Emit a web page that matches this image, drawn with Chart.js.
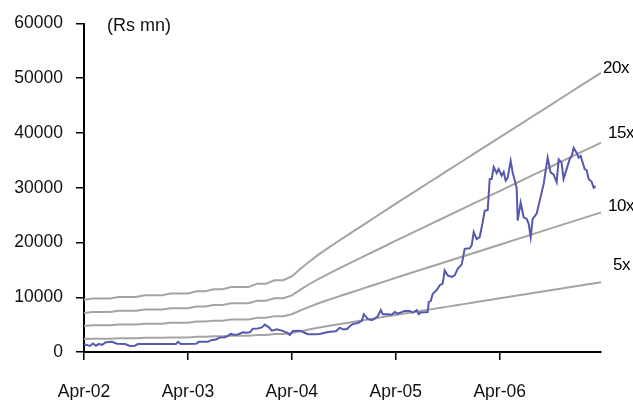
<!DOCTYPE html>
<html>
<head>
<meta charset="utf-8">
<script src="https://cdn.jsdelivr.net/npm/chart.js@4/dist/chart.umd.min.js"></script>
<style>
  html, body { margin: 0; padding: 0; background: #fff; }
  #wrap { width: 633px; height: 400px; }
</style>
</head>
<body>
<div id="wrap"><canvas id="c" width="633" height="400"></canvas></div>
<script>
// Market capitalisation (Rs mn), x = months since Apr-02
const mcapMonths = [0,0.69,1.04,1.38,1.73,2.08,2.54,3.23,3.81,4.73,
  5.31,5.88,6.23,8.77,10.62,10.85,11.19,12.92,13.27,14.31,
  14.77,15.23,15.69,16.27,16.62,16.96,17.31,17.77,18.35,18.81,
  19.15,19.5,20.08,20.54,20.88,21.35,21.69,22.27,22.85,23.42,
  23.77,24.12,24.92,25.38,25.85,26.65,27.23,27.81,28.38,29.08,
  29.54,29.88,30.35,30.69,31.04,31.62,32.08,32.31,32.77,33.23,
  33.58,33.92,34.27,34.5,35.08,35.54,35.88,36.23,37.04,37.62,
  37.96,38.42,38.65,38.88,39.69,39.81,40.04,40.27,40.73,41.08,
  41.42,41.65,42.0,42.46,42.81,43.15,43.62,43.96,44.54,44.77,
  45.0,45.35,45.69,46.04,46.27,46.62,46.85,47.08,47.31,47.65,
  47.88,48.23,48.46,48.69,48.92,49.27,49.5,49.96,50.08,50.42,
  50.77,51.12,51.35,51.58,51.81,52.27,52.62,53.08,53.54,53.88,
  54.23,54.58,54.81,55.15,55.38,55.73,56.08,56.31,56.54,56.88,
  57.12,57.35,57.58,57.81,58.04,58.27,58.62,58.85,59.08];
const mcapValues = [1400,1100,1550,1150,1500,1300,1800,1850,1500,1450,
  1100,1150,1450,1450,1450,1850,1450,1500,1850,1850,
  2200,2300,2650,2700,2950,3300,3150,3200,3600,3500,
  3600,4250,4300,4500,5000,4500,3900,4150,3900,3550,
  3100,3850,3900,3600,3250,3250,3300,3500,3700,3800,
  4450,4150,4150,4700,5100,5300,5700,6900,6050,5800,
  6100,6500,7650,6900,6900,6800,7300,7000,7500,7500,
  7200,7650,6900,7200,7300,9150,9300,10650,11300,12200,
  12500,14900,14000,13700,14000,15200,16000,18850,18950,19500,
  21900,20650,21000,23700,25800,25950,31600,31600,33800,32700,
  33400,32200,32900,31300,31800,34900,32800,30000,24000,27300,
  24600,24300,23400,21000,24300,25300,27600,30700,35500,32800,
  32400,31000,35200,34600,31600,33400,35200,35800,37300,36400,
  35500,35800,34600,33400,33200,31600,31100,30000,30300];

// Earnings per period used for the P/E bands (Rs mn)
const epsMonths = [0,1,2,3,4,5,6,7,8,9,10,11,12,13,14,15,16,17,18,19,
  20,21,22,23,24,25,26,27,28,29,30,31,32,33,34,35,36,37,38,39,
  40,41,42,43,44,45,46,47,48,49,50,51,52,53,54,55,56,57,58,59,59.7];
const epsValues = [476,488,488,488,503,503,503,518,518,518,
  534,534,534,555,555,573,573,594,594,594,
  624,624,655,655,690,760,825,885,940,993,
  1045,1097,1148,1200,1251,1303,1355,1405,1456,1506,
  1557,1607,1658,1708,1758,1809,1859,1910,1960,2010,
  2061,2111,2162,2212,2262,2313,2363,2414,2464,2514,2549];

const peMultiples = [20, 15, 10, 5];
const bandLabels = ['20x', '15x', '10x', '5x'];

const xTickMonths = [0, 12, 24, 36, 48];
const xTickLabels = ['Apr-02', 'Apr-03', 'Apr-04', 'Apr-05', 'Apr-06'];
const unitLabel = '(Rs mn)';

// label placement next to the end of each band line
const labelDx = [2, 7, 7, 12];
const labelDy = [0, -5, -1, -12];

const FONT = '"Liberation Sans", Arial, sans-serif';

const toPoints = (xs, ys) => xs.map((m, i) => ({ x: m, y: ys[i] }));

const datasets = [{
  label: 'Market cap',
  data: toPoints(mcapMonths, mcapValues),
  borderColor: '#5558AE',
  borderWidth: 2,
  pointRadius: 0,
  tension: 0,
  order: 0
}];
peMultiples.forEach((k, i) => {
  datasets.push({
    label: bandLabels[i],
    data: toPoints(epsMonths, epsValues.map(v => v * k)),
    borderColor: '#A4A4A4',
    borderWidth: 2,
    pointRadius: 0,
    tension: 0,
    order: 1
  });
});

const textPlugin = {
  id: 'bandText',
  afterDraw(chart) {
    const { ctx, scales: { x, y } } = chart;
    ctx.save();
    ctx.fillStyle = '#000';
    ctx.textAlign = 'left';
    ctx.textBaseline = 'alphabetic';
    ctx.font = '17px ' + FONT;
    try { ctx.letterSpacing = '-0.5px'; } catch (e) {}
    const lastM = epsMonths[epsMonths.length - 1];
    const lastE = epsValues[epsValues.length - 1];
    peMultiples.forEach((k, i) => {
      const px = x.getPixelForValue(lastM) + labelDx[i];
      const py = y.getPixelForValue(lastE * k) + labelDy[i];
      ctx.fillText(bandLabels[i], px, py);
    });
    try { ctx.letterSpacing = '0px'; } catch (e) {}
    ctx.font = '18px ' + FONT;
    ctx.fillStyle = '#111';
    ctx.fillText(unitLabel, x.left + 23, y.top + 7);
    ctx.restore();
  }
};

new Chart(document.getElementById('c'), {
  type: 'line',
  data: { datasets },
  options: {
    responsive: false,
    animation: false,
    events: [],
    layout: { padding: { left: 0, right: 32, top: 22, bottom: 0 } },
    plugins: { legend: { display: false }, tooltip: { enabled: false } },
    scales: {
      x: {
        type: 'linear',
        min: 0,
        max: 59.7,
        afterBuildTicks(scale) {
          scale.ticks = xTickMonths.map(v => ({ value: v }));
        },
        afterFit(scale) { scale.height = 48; },
        ticks: {
          autoSkip: false,
          maxRotation: 0,
          padding: 22,
          color: '#111',
          font: { family: FONT, size: 17.5 },
          callback: (v, i) => xTickLabels[i]
        },
        grid: { drawOnChartArea: false, drawTicks: true, tickLength: 8, color: '#000', lineWidth: 1.5 },
        border: { display: true, color: '#000', width: 2 }
      },
      y: {
        type: 'linear',
        min: 0,
        max: 60000,
        afterFit(scale) { scale.width = 84; },
        ticks: {
          stepSize: 10000,
          padding: 13,
          color: '#111',
          font: { family: FONT, size: 17.5 },
          callback: v => String(v)
        },
        grid: { drawOnChartArea: false, drawTicks: true, tickLength: 8, color: '#000', lineWidth: 1.5 },
        border: { display: true, color: '#000', width: 2 }
      }
    }
  },
  plugins: [textPlugin]
});
</script>
</body>
</html>
